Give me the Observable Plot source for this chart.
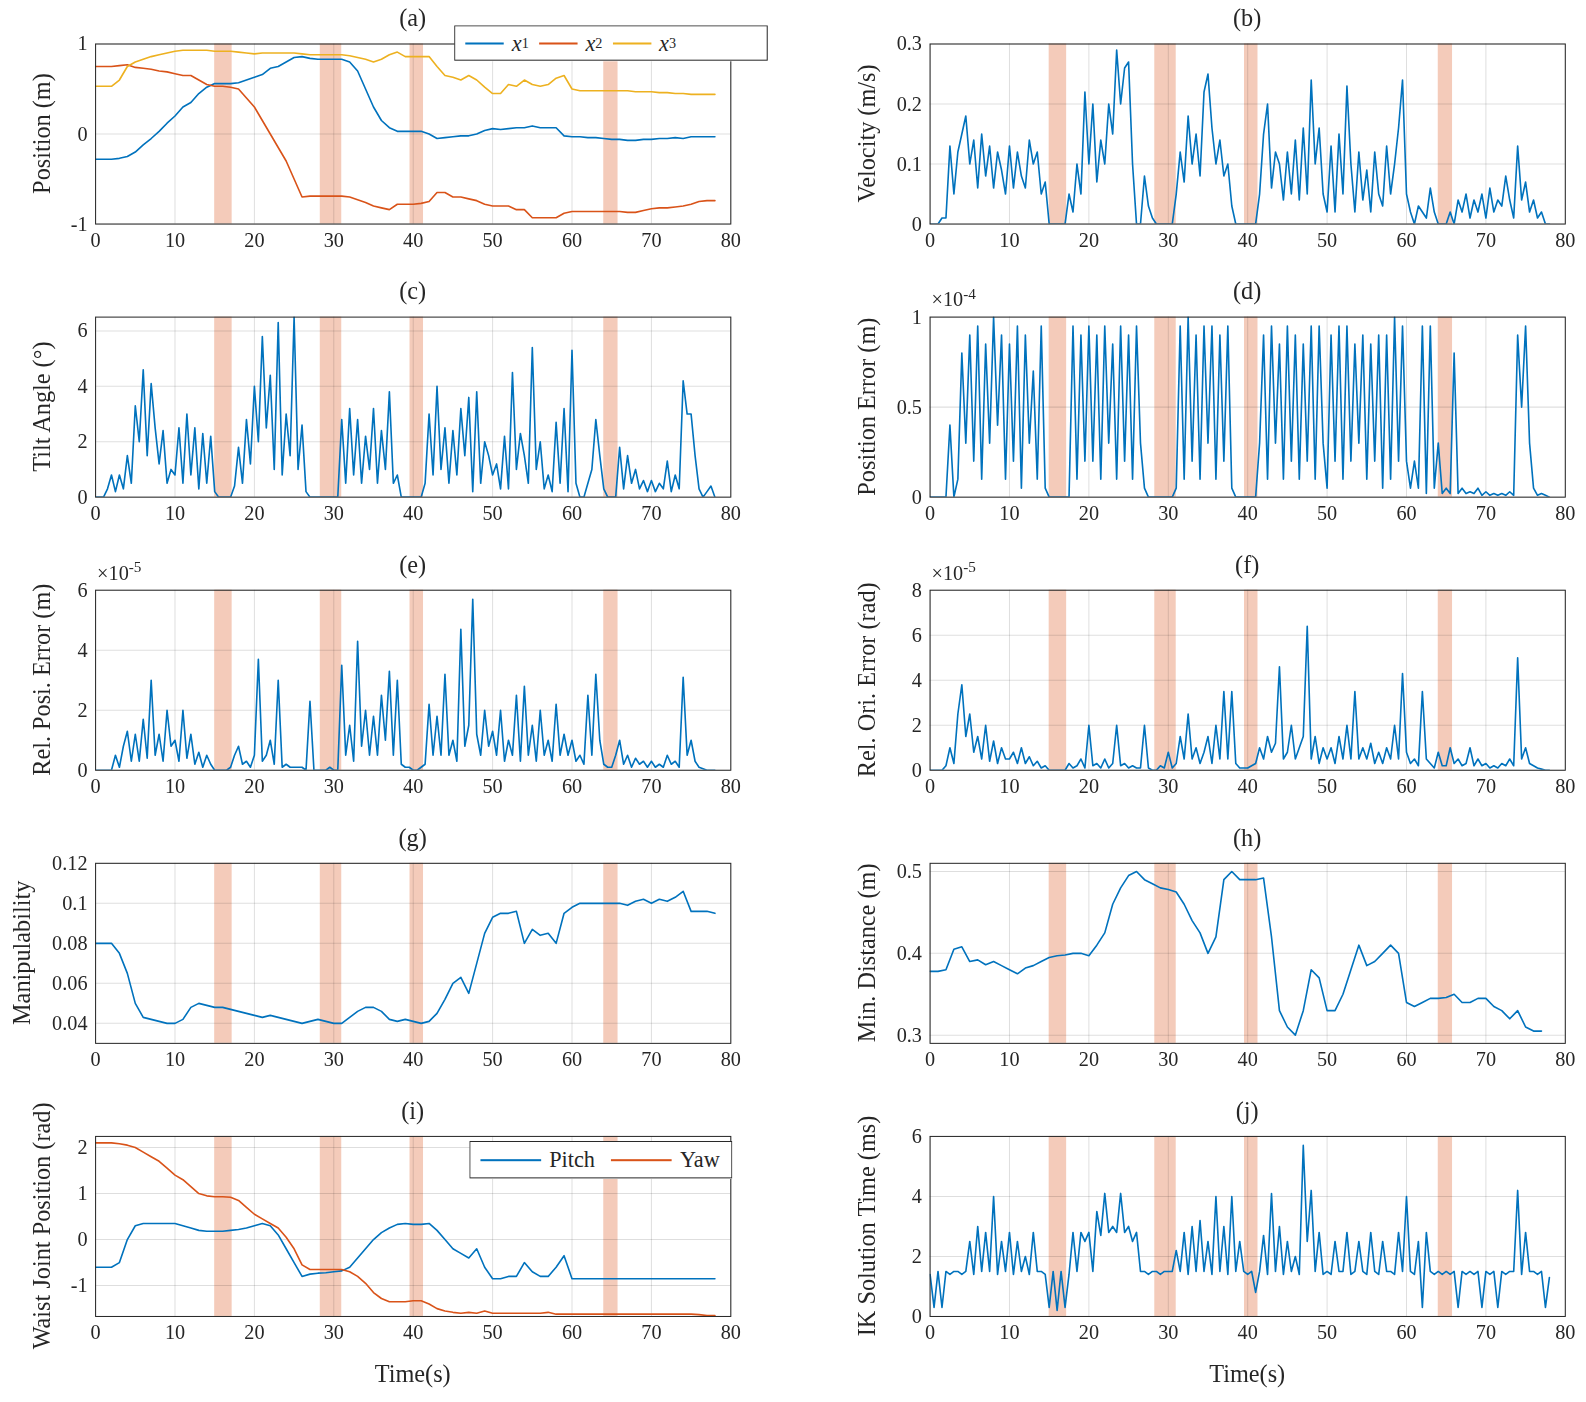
<!DOCTYPE html>
<html><head><meta charset="utf-8">
<script src="https://cdn.jsdelivr.net/npm/d3@7"></script>
<script src="https://cdn.jsdelivr.net/npm/@observablehq/plot@0.6"></script>
<style>
html,body{margin:0;background:#fff;overflow:hidden;width:1586px;height:1402px}
body{font-family:"Liberation Serif",serif;color:#262626}
#wrap{position:relative;width:1586px;height:1402px;transform:scale(1.0115);transform-origin:0 0}
svg text{font-family:"Liberation Serif",serif !important}
.abs{position:absolute;white-space:nowrap}
.ttl{font-size:24px;transform:translateX(-50%)}
.ylab{font-size:24px;transform:translate(-50%,-50%) rotate(-90deg)}
.leg{background:#fff;border:1px solid #262626;display:flex;align-items:center;font-size:22px;box-sizing:border-box}
.leg span.ln{display:inline-block;width:38px;height:2px;margin:0 8px 0 10px}
</style></head><body><div id="wrap"></div>
<script>
const bands = [[15,17.2],[28.3,31],[39.6,41.3],[64,65.8]];
const xTicks = [0,10,20,30,40,50,60,70,80];

const posX1 = [-0.28,-0.28,-0.28,-0.27,-0.25,-0.2,-0.12,-0.05,0.03,0.12,0.2,0.3,0.35,0.45,0.52,0.56,0.56,0.56,0.57,0.6,0.63,0.66,0.73,0.75,0.8,0.85,0.86,0.84,0.83,0.83,0.83,0.83,0.8,0.7,0.5,0.3,0.15,0.07,0.03,0.03,0.03,0.03,0,-0.05,-0.04,-0.03,-0.02,-0.02,0,0.04,0.06,0.05,0.06,0.07,0.07,0.09,0.07,0.07,0.07,-0.02,-0.03,-0.03,-0.04,-0.04,-0.05,-0.06,-0.06,-0.07,-0.07,-0.06,-0.06,-0.05,-0.05,-0.04,-0.05,-0.03,-0.03,-0.03,-0.03];
const posX2 = [0.75,0.75,0.75,0.76,0.77,0.74,0.73,0.72,0.7,0.69,0.67,0.65,0.65,0.6,0.55,0.53,0.53,0.52,0.5,0.4,0.3,0.15,0,-0.15,-0.3,-0.5,-0.7,-0.69,-0.69,-0.69,-0.69,-0.69,-0.7,-0.73,-0.76,-0.8,-0.82,-0.84,-0.78,-0.78,-0.78,-0.77,-0.75,-0.65,-0.65,-0.7,-0.7,-0.72,-0.74,-0.78,-0.8,-0.8,-0.8,-0.84,-0.84,-0.93,-0.93,-0.93,-0.93,-0.88,-0.86,-0.86,-0.86,-0.86,-0.86,-0.86,-0.86,-0.87,-0.87,-0.85,-0.83,-0.82,-0.82,-0.81,-0.8,-0.78,-0.75,-0.74,-0.74];
const posX3 = [0.53,0.53,0.53,0.6,0.75,0.8,0.83,0.86,0.88,0.9,0.92,0.93,0.93,0.93,0.93,0.92,0.92,0.92,0.91,0.9,0.89,0.9,0.9,0.9,0.9,0.9,0.89,0.88,0.88,0.88,0.88,0.88,0.87,0.85,0.83,0.8,0.83,0.88,0.91,0.86,0.86,0.86,0.86,0.75,0.65,0.63,0.6,0.65,0.6,0.52,0.45,0.45,0.55,0.53,0.6,0.55,0.53,0.55,0.62,0.65,0.5,0.48,0.48,0.48,0.48,0.48,0.48,0.48,0.47,0.47,0.47,0.46,0.46,0.45,0.45,0.44,0.44,0.44,0.44];

const velocity = [0,0,0,0.01,0.01,0.13,0.05,0.12,0.15,0.18, 0.1,0.14,0.06,0.15,0.08,0.13,0.06,0.12,0.09,0.05, 0.13,0.06,0.12,0.08,0.06,0.14,0.1,0.12,0.05,0.07, 0,0,0,0,0,0.05,0.02,0.1,0.05,0.22, 0.1,0.2,0.07,0.14,0.1,0.2,0.15,0.29,0.2,0.26, 0.27,0.1,0,0,0.08,0.03,0.01,0,0,0, 0,0,0.05,0.12,0.07,0.18,0.1,0.15,0.08,0.22, 0.25,0.16,0.1,0.14,0.08,0.1,0.03,0,0,0, 0,0,0,0.05,0.15,0.2,0.06,0.12,0.1,0.04, 0.12,0.05,0.14,0.04,0.16,0.05,0.24,0.1,0.16,0.05, 0.02,0.13,0.02,0.15,0.05,0.23,0.1,0.02,0.12,0.04, 0.09,0.02,0.12,0.05,0.03,0.13,0.05,0.1,0.16,0.24, 0.05,0.02,0,0.03,0.02,0.01,0.06,0.02,0,0, 0,0.02,0,0.04,0.02,0.05,0.01,0.04,0.02,0.05, 0.01,0.06,0.02,0.04,0.03,0.08,0.04,0.01,0.13,0.04, 0.07,0.02,0.04,0.01,0.02,0, 0];
const tilt = [0,0,0,0.3,0.8,0.2,0.8,0.3,1.5,0.5, 3.3,2,4.6,1.5,4.1,2.5,1.2,2.4,0.5,1, 0.8,2.5,0.5,3,0.8,2.5,0.3,2.3,0.5,2.2, 0.2,0,0,0,0,0.4,1.8,0.5,2.8,1.2, 4,2,5.8,2.5,4.4,1,6.3,0.8,3,1.5, 6.5,1,2.6,0.2,0,0,0,0,0,0, 0,0,2.8,0.5,3.2,0.8,2.8,0.5,2.2,1, 3.2,0.5,2.4,1,3.8,0.5,0.8,0,0,0, 0,0,0,0.5,3,0.8,4,1,2.5,0.5, 2.4,0.8,3.2,1.5,3.6,0.2,3.8,0.5,2,1.5, 0.8,1.2,0.3,2.2,0.3,4.5,1,2.3,1.5,0.5, 5.4,1,2,0.3,0.8,0.2,2.7,0.5,3.2,0.2, 5.3,0.5,0,0,0.5,1,2.8,1.5,0.3,0, 0,0,1.8,0.3,1.5,0.5,1,0.3,0.6,0.2, 0.6,0.2,0.5,0.3,1.3,0.2,0.8,0.3,4.2,3, 3,1.5,0.3,0,0.2,0.4, 0];
const posErr = [0,0,0,0,0,0.4,0,0.1,0.8,0.3, 0.9,0.2,0.95,0.1,0.85,0.3,1.0,0.4,0.9,0.1, 0.85,0.2,0.95,0.05,0.9,0.3,0.7,0.1,0.95,0.05, 0,0,0,0,0,0,0.95,0.1,0.9,0.2, 0.95,0.2,0.9,0.1,0.95,0.3,0.85,0.1,0.95,0.2, 0.9,0.1,0.95,0.3,0.05,0,0,0,0,0, 0,0,0.05,0.95,0.1,1.0,0.2,0.9,0.1,0.95, 0.3,0.95,0.1,0.9,0.2,0.95,0.05,0,0,0, 0,0,0,0.3,0.9,0.1,0.95,0.3,0.85,0.1, 0.95,0.2,0.9,0.1,0.85,0.2,0.95,0.1,0.95,0.3, 0.05,0.9,0.2,0.95,0.1,0.95,0.2,0.85,0.3,0.9, 0.1,0.85,0.2,0.9,0.05,0.9,0.1,1.0,0.2,0.95, 0.2,0.05,0.2,0.05,0.95,0.02,0.95,0.05,0.3,0.02, 0.05,0.02,0.8,0.02,0.05,0.02,0.03,0.02,0.05,0.01, 0.03,0.01,0.02,0.01,0.02,0.01,0.03,0.01,0.9,0.5, 0.95,0.3,0.05,0.01,0.02,0.01, 0];
const relPosErr = [0,0,0,0,0,0.5,0.1,0.8,1.3,0.3, 1.2,0.3,1.7,0.4,3,0.5,1.2,0.3,2,0.8, 1,0.3,2,0.4,1.2,0.2,0.6,0.1,0.5,0.2, 0,0,0,0,0.1,0.5,0.8,0.2,0.3,0.1, 0.5,3.7,0.3,0.5,1,0.2,3,0.1,0.2,0.1, 0.1,0.1,0.1,0,2.3,0,0,0,0,0.1, 0,0,3.5,0.5,1.5,0.3,4.3,0.8,2,0.5, 1.8,0.5,2.5,1,3.3,0.5,3,0.2,0.1,0.1, 0,0,0.1,0.2,2.2,0.5,1.8,0.5,3.2,0.5, 1,0.3,4.7,0.8,1.5,5.7,1.2,0.5,2,0.8, 1.3,0.5,2,0.3,1,0.5,2.5,0.3,2.8,0.5, 1.5,0.3,2,0.5,1,0.3,2.2,0.5,1.2,0.5, 1,0.3,0.5,0.2,2.5,0.5,3.2,1,0.2,0.1, 0.1,0.5,1,0.2,0.5,0.1,0.4,0.2,0.3,0.1, 0.3,0.1,0.2,0.1,0.5,0.2,0.3,0.1,3.1,0.5, 1,0.3,0.1,0.05,0,0, 0];
const relOriErr = [0,0,0,0,0.2,1,0.3,2.5,3.8,1.5, 2.5,0.8,1.5,0.5,2,0.4,1.3,0.3,1,0.5, 0.5,0.8,0.3,1,0.3,0.6,0.2,0.4,0.1,0.2, 0,0,0,0,0,0.3,0.1,0.2,0.5,0.1, 2,0.2,0.3,0.1,0.5,0.1,0.3,2,0.2,0.3, 0.1,0.2,0.1,0.1,2,0.1,0,0,0.2,0.1, 0.8,0.1,0.3,1.5,0.5,2.5,0.5,1,0.3,0.8, 1.5,0.3,2,0.5,3.5,0.5,3.5,0.3,0.1,0.1, 0.1,0.2,0.3,1,0.5,1.5,0.8,1.2,4.6,0.5, 0.8,2,0.5,1,1.5,6.4,0.5,1.5,0.3,1, 0.5,1,0.3,1.5,0.5,2,0.5,3.5,0.5,1, 0.5,1.2,0.3,0.8,0.3,1,0.5,2,0.5,4.3, 0.8,0.3,0.5,0.2,3.5,0.5,0.3,0.1,0.8,0.2, 0.2,1,0.3,0.5,0.2,0.3,1,0.2,0.5,0.2, 0.3,0.1,0.2,0.1,0.3,0.2,0.5,0.2,5,0.5, 1,0.3,0.2,0.1,0.05,0, 0];
const manip = [0.08,0.08,0.08,0.075,0.065,0.05,0.043,0.042,0.041,0.04,0.04,0.042,0.048,0.05,0.049,0.048,0.048,0.047,0.046,0.045,0.044,0.043,0.044,0.043,0.042,0.041,0.04,0.041,0.042,0.041,0.04,0.04,0.043,0.046,0.048,0.048,0.046,0.042,0.041,0.042,0.041,0.04,0.041,0.045,0.052,0.06,0.063,0.055,0.07,0.085,0.093,0.095,0.095,0.096,0.08,0.087,0.084,0.085,0.08,0.095,0.098,0.1,0.1,0.1,0.1,0.1,0.1,0.099,0.101,0.102,0.1,0.102,0.101,0.103,0.106,0.096,0.096,0.096,0.095];
const minDist = [0.378,0.378,0.38,0.405,0.408,0.39,0.392,0.386,0.39,0.385,0.38,0.375,0.382,0.385,0.39,0.395,0.397,0.398,0.4,0.4,0.397,0.41,0.425,0.46,0.48,0.495,0.5,0.49,0.485,0.48,0.478,0.475,0.46,0.44,0.425,0.4,0.42,0.49,0.5,0.49,0.49,0.49,0.492,0.42,0.33,0.31,0.3,0.33,0.38,0.37,0.33,0.33,0.35,0.38,0.41,0.385,0.39,0.4,0.41,0.4,0.34,0.335,0.34,0.345,0.345,0.346,0.35,0.34,0.34,0.345,0.345,0.335,0.33,0.32,0.33,0.31,0.305,0.305];
const pitch = [-0.6,-0.6,-0.6,-0.5,0,0.3,0.35,0.35,0.35,0.35,0.35,0.3,0.25,0.2,0.18,0.18,0.18,0.2,0.22,0.25,0.3,0.35,0.3,0.1,-0.2,-0.5,-0.8,-0.75,-0.73,-0.72,-0.7,-0.68,-0.6,-0.4,-0.2,0,0.15,0.25,0.33,0.35,0.33,0.33,0.35,0.2,0,-0.2,-0.3,-0.4,-0.2,-0.6,-0.85,-0.85,-0.8,-0.8,-0.5,-0.7,-0.8,-0.8,-0.6,-0.35,-0.85,-0.85,-0.85,-0.85,-0.85,-0.85,-0.85,-0.85,-0.85,-0.85,-0.85,-0.85,-0.85,-0.85,-0.85,-0.85,-0.85,-0.85,-0.85];
const yaw = [2.1,2.1,2.1,2.08,2.05,2.0,1.9,1.8,1.7,1.55,1.4,1.3,1.15,1.0,0.95,0.93,0.93,0.92,0.85,0.7,0.55,0.45,0.35,0.25,0.05,-0.2,-0.55,-0.65,-0.65,-0.65,-0.65,-0.65,-0.7,-0.8,-0.95,-1.15,-1.28,-1.35,-1.35,-1.35,-1.33,-1.33,-1.4,-1.5,-1.55,-1.58,-1.6,-1.58,-1.6,-1.55,-1.6,-1.6,-1.6,-1.6,-1.6,-1.6,-1.6,-1.58,-1.62,-1.62,-1.62,-1.62,-1.62,-1.62,-1.62,-1.62,-1.62,-1.62,-1.62,-1.62,-1.62,-1.62,-1.62,-1.62,-1.62,-1.62,-1.63,-1.65,-1.65];
const ikTime = [1.4,0.3,1.5,0.3,1.5,1.4,1.5,1.5,1.4,1.5, 2.5,1.4,3,1.5,2.8,1.5,4,1.4,2.5,1.5, 2.8,1.4,2.5,1.5,2,1.4,2.8,1.5,1.5,1.4, 0.3,1.5,0.2,1.5,0.3,1.4,2.8,1.5,2.8,2.5, 2.8,1.5,3.5,2.7,4.1,2.8,3,2.8,4.1,2.8, 3,2.5,2.8,1.5,1.5,1.4,1.5,1.5,1.4,1.5, 1.5,1.5,2.2,1.5,2.8,1.4,3,1.5,3.2,1.5, 2.5,1.4,4,1.5,3,1.4,4,1.5,2.5,1.5, 1.4,1.5,0.8,1.5,2.7,1.4,4.1,1.5,3,1.4, 2.5,1.5,2,1.4,5.7,2.5,4.2,1.5,2.8,1.4, 1.5,1.4,2.5,1.5,1.5,2.8,1.4,1.5,2.5,1.5, 1.4,2.8,1.5,1.4,2.5,1.5,1.5,1.4,2.8,1.5, 4,1.5,1.4,2.5,0.3,2.8,1.5,1.4,1.5,1.4, 1.5,1.4,1.5,0.3,1.5,1.4,1.5,1.4,1.5,0.3, 1.5,1.4,1.5,0.3,1.5,1.4,1.5,1.5,4.2,1.4, 2.8,1.5,1.5,1.4,1.5,0.3, 1.3];

const BLUE="#0072BD", ORANGE="#D95319", YELLOW="#EDB120";
const panels = [
 {t:"(a)",col:0,row:0,yl:"Position (m)",dom:[-1,1],ticks:[-1,0,1],s:[[posX1,1,BLUE],[posX2,1,ORANGE],[posX3,1,YELLOW]]},
 {t:"(b)",col:1,row:0,yl:"Velocity (m/s)",dom:[0,0.3],ticks:[0,0.1,0.2,0.3],s:[[velocity,0.5,BLUE]]},
 {t:"(c)",col:0,row:1,yl:"Tilt Angle (°)",dom:[0,6.5],ticks:[0,2,4,6],s:[[tilt,0.5,BLUE]]},
 {t:"(d)",col:1,row:1,yl:"Position Error (m)",dom:[0,1],ticks:[0,0.5,1],s:[[posErr,0.5,BLUE]],exp:"-4"},
 {t:"(e)",col:0,row:2,yl:"Rel. Posi. Error (m)",dom:[0,6],ticks:[0,2,4,6],s:[[relPosErr,0.5,BLUE]],exp:"-5"},
 {t:"(f)",col:1,row:2,yl:"Rel. Ori. Error (rad)",dom:[0,8],ticks:[0,2,4,6,8],s:[[relOriErr,0.5,BLUE]],exp:"-5"},
 {t:"(g)",col:0,row:3,yl:"Manipulability",dom:[0.03,0.12],ticks:[0.04,0.06,0.08,0.1,0.12],s:[[manip,1,BLUE]],ylx:22},
 {t:"(h)",col:1,row:3,yl:"Min. Distance (m)",dom:[0.29,0.51],ticks:[0.3,0.4,0.5],s:[[minDist,1,BLUE]]},
 {t:"(i)",col:0,row:4,yl:"Waist Joint Position (rad)",dom:[-1.67,2.24],ticks:[-1,0,1,2],s:[[pitch,1,BLUE],[yaw,1,ORANGE]]},
 {t:"(j)",col:1,row:4,yl:"IK Solution Time (ms)",dom:[0,6],ticks:[0,2,4,6],s:[[ikTime,0.5,BLUE]]}
];
const wrap=document.getElementById("wrap");
function addDiv(cls,x,y,html){const d=document.createElement("div");d.className="abs "+cls;d.style.left=x+"px";d.style.top=y+"px";d.innerHTML=html;wrap.appendChild(d);return d;}
const F="Liberation Serif";
for(const p of panels){
  const W=793,H=270,L=p.col?126:94,R=p.col?39:71;
  const marks=[
    Plot.rect(bands,{x1:d=>d[0],x2:d=>d[1],fill:ORANGE,fillOpacity:0.3}),
    Plot.gridX(xTicks,{stroke:"#000",strokeOpacity:0.13}),
    Plot.gridY(p.ticks,{stroke:"#000",strokeOpacity:0.13}),
    ...p.s.map(([vals,step,c])=>Plot.line(vals.map((v,i)=>({t:i*step,v})),{x:"t",y:"v",stroke:c,strokeWidth:1.6,clip:true})),
    Plot.axisX(xTicks,{tickSize:0,tickPadding:8,fontSize:20,fontFamily:F}),
    Plot.axisY(p.ticks,{tickSize:0,tickPadding:8,fontSize:20,fontFamily:F,tickFormat:d=>String(+d.toFixed(3))}),
    Plot.frame({stroke:"#262626"})
  ];
  const svg=Plot.plot({width:W,height:H,marginLeft:L,marginRight:R,marginTop:43,marginBottom:49,
    x:{domain:[0,80],label:null},y:{domain:p.dom,label:null},
    style:{fontFamily:F,fontSize:"20px",color:"#262626",background:"transparent"},marks});
  svg.style.position="absolute";svg.style.left=(p.col*W)+"px";svg.style.top=(p.row*H)+"px";
  svg.style.width=W+"px";svg.style.height=H+"px";svg.style.maxWidth="none";
  wrap.appendChild(svg);
  const cx=p.col*W+L+(W-L-R)/2, top=p.row*H;
  addDiv("ttl",cx,top+5,p.t);
  addDiv("ylab",p.ylx??(p.col?858:42),top+43+89,p.yl);
  if(p.exp) addDiv("",p.col*W+L+2,top+12,`<span style="font-size:20px">×10<sup style="font-size:15px">${p.exp}</sup></span>`);
}
addDiv("ttl",408,1345,"Time(s)");
addDiv("ttl",1233,1345,"Time(s)");
const lg1=addDiv("leg",449,25,`<span class="ln" style="background:${BLUE}"></span><i>x</i><sub style="font-size:14px">1</sub><span class="ln" style="background:${ORANGE}"></span><i>x</i><sub style="font-size:14px">2</sub><span class="ln" style="background:${YELLOW}"></span><i>x</i><sub style="font-size:14px">3</sub>`);
lg1.style.width="310px";lg1.style.height="35px";
const lg2=addDiv("leg",464,1128,`<span class="ln" style="background:${BLUE};width:60px"></span>Pitch<span class="ln" style="background:${ORANGE};width:60px;margin-left:16px"></span>Yaw`);
lg2.style.width="260px";lg2.style.height="37px";
</script></body></html>
